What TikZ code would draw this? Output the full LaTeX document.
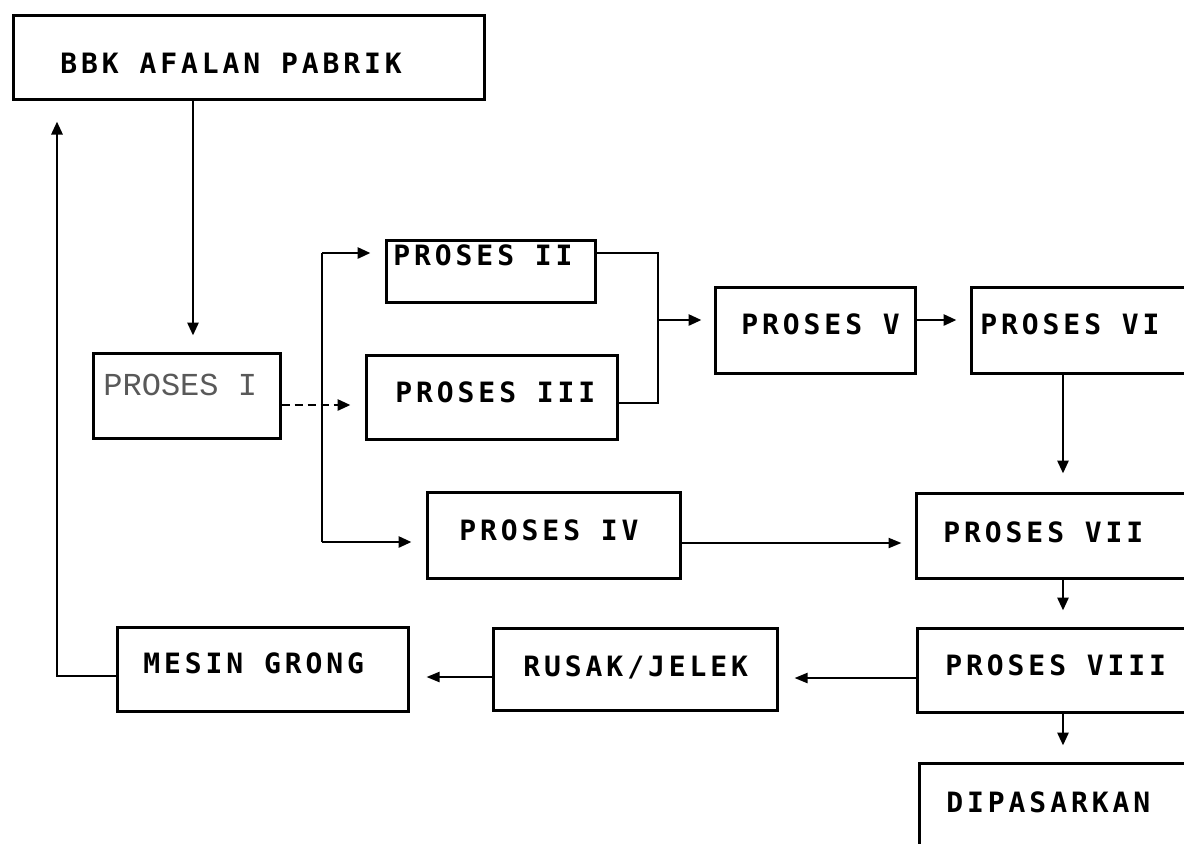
\documentclass[tikz,border=0pt]{standalone}
\usepackage{fontspec}
\newfontfamily\dmfont[LetterSpace=14]{DejaVu Sans Mono Bold}
\newfontfamily\lightfont{Liberation Mono}
\usetikzlibrary{arrows.meta,fit,calc}
\begin{document}
\begin{tikzpicture}[x=0.5pt,y=-0.5pt,
  box/.style={draw, line width=1.5pt, inner sep=0pt, rectangle},
  lbl/.style={anchor=west, inner sep=0pt, font=\dmfont\fontsize{14}{16}\selectfont},
  lightlbl/.style={anchor=west, inner sep=0pt, text=black!65, font=\lightfont\fontsize{16}{18}\selectfont},
  conn/.style={line width=1.4pt},
  arr/.style={conn, -{Triangle[length=6.5pt,width=5.5pt]}},
  thinarr/.style={line width=1.1pt, -{Triangle[length=6.5pt,width=5pt]}},
]
\useasboundingbox (0,0) rectangle (1184,843);
\clip (0,0) rectangle (1184,843);

% boxes
\node[box, fit={(13,15) (484,99)}] (bbk) {};
\node[box, fit={(93,353) (280,438)}] (p1) {};
\node[box, fit={(386,240) (595,302)}] (p2) {};
\node[box, fit={(366,355) (617,439)}] (p3) {};
\node[box, fit={(427,492) (680,578)}] (p4) {};
\node[box, fit={(715,287) (915,373)}] (p5) {};
\node[box, fit={(971,287) (1260,373)}] (p6) {};
\node[box, fit={(916,493) (1260,578)}] (p7) {};
\node[box, fit={(917,628) (1260,712)}] (p8) {};
\node[box, fit={(919,763) (1260,900)}] (dip) {};
\node[box, fit={(117,627) (408,711)}] (mesin) {};
\node[box, fit={(493,628) (777,710)}] (rusak) {};

% labels
\node[lbl] (t0) at (60,63) {BBK AFALAN PABRIK};
\node[lightlbl] (t1) at (103,385) {PROSES I};
\node[lbl] (t2) at (393,255) {PROSES II};
\node[lbl] (t3) at (395,392) {PROSES III};
\node[lbl] (t4) at (459,530) {PROSES IV};
\node[lbl] (t5) at (741,324) {PROSES V};
\node[lbl] (t6) at (980,324) {PROSES VI};
\node[lbl] (t7) at (943,532) {PROSES VII};
\node[lbl] (t8) at (945,665) {PROSES VIII};
\node[lbl] (t9) at (946,802) {DIPASARKAN};
\node[lbl] (t10) at (143,663) {MESIN GRONG};
\node[lbl] (t11) at (523,667) {RUSAK/JELEK};

% helper columns / rows
\coordinate (cA) at (193,0);
\coordinate (cT) at (322,0);
\coordinate (cM) at (658,0);
\coordinate (cR) at (1063,0);
\coordinate (cL) at (57,0);
\coordinate (rD) at (0,405);
\coordinate (r2) at (0,253);
\coordinate (r3) at (0,403);
\coordinate (r4) at (0,542);
\coordinate (r5) at (0,320);
\coordinate (r7) at (0,543);
\coordinate (r8) at (0,678);
\coordinate (r9) at (0,677);
\coordinate (rL) at (0,676);

% connectors
\draw[arr, shorten >=8pt] (bbk.south -| cA) -- (p1.north -| cA);
\draw[arr, dash pattern=on 4pt off 2.5pt, shorten >=7pt] (p1.east |- rD) -- (p3.west |- rD);
\draw[conn] (cT |- r2) -- (cT |- r4);
\draw[arr, shorten >=7pt] (cT |- r2) -- (p2.west |- r2);
\draw[arr, shorten >=7pt] (cT |- r4) -- (p4.west |- r4);
\draw[conn] (p2.east |- r2) -| (cM |- r3) -- (p3.east |- r3);
\draw[arr, shorten >=6pt] (cM |- r5) -- (p5.west |- r5);
\draw[arr, shorten >=6.5pt] (p5.east |- r5) -- (p6.west |- r5);
\draw[arr, shorten >=9pt] (p6.south -| cR) -- (p7.north -| cR);
\draw[thinarr, shorten >=6.5pt] (p4.east |- r7) -- (p7.west |- r7);
\draw[arr, shorten >=8pt] (p7.south -| cR) -- (p8.north -| cR);
\draw[arr, shorten >=8pt] (p8.south -| cR) -- (dip.north -| cR);
\draw[thinarr, shorten >=8pt] (p8.west |- r8) -- (rusak.east |- r8);
\draw[thinarr, shorten >=8.5pt] (rusak.west |- r9) -- (mesin.east |- r9);
\draw[arr, shorten >=10.5pt] (mesin.west |- rL) -| (bbk.south -| cL);
\end{tikzpicture}
\end{document}
